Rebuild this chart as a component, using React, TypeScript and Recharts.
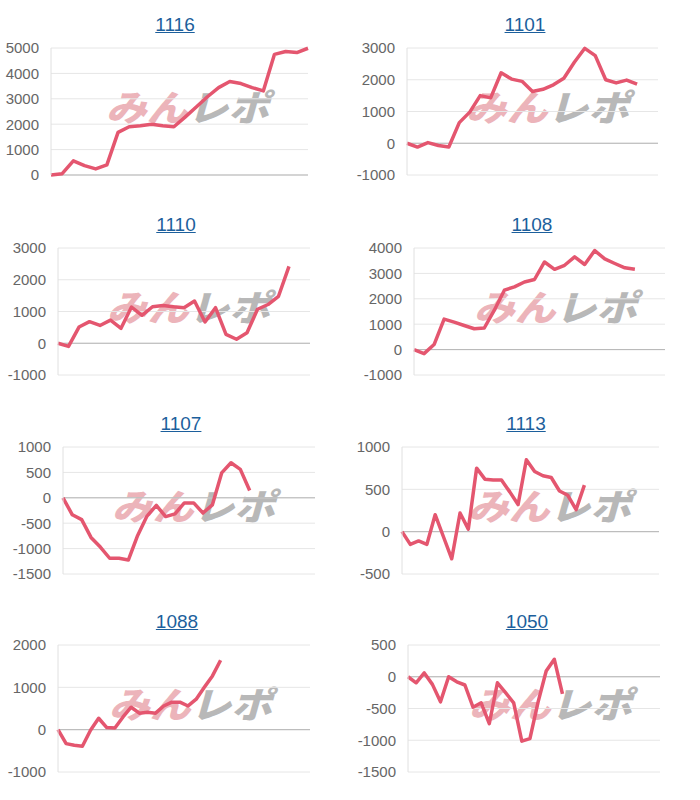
import React from 'react';
import { LineChart, Line, XAxis, YAxis, CartesianGrid, ReferenceLine } from 'recharts';

// 台ごとの差枚推移 (1日ずつ)
const names = ['1116', '1101', '1110', '1108', '1107', '1113', '1088', '1050'];

const s1116 = [0, 50, 560, 370, 240, 400, 1680, 1900, 1940, 2000, 1940, 1900, 2280, 2680, 3080, 3440, 3680, 3600, 3440, 3310, 4750, 4860, 4820, 4990];
const s1101 = [0, -120, 20, -70, -120, 650, 980, 1500, 1430, 2220, 2020, 1950, 1630, 1700, 1840, 2050, 2550, 2990, 2760, 2000, 1900, 1990, 1860, null, null];
const s1110 = [0, -100, 510, 680, 560, 730, 470, 1140, 880, 1150, 1190, 1150, 1120, 1330, 670, 1120, 280, 125, 330, 1070, 1220, 1480, 2420, null, null];
const s1108 = [0, -160, 200, 1200, 1080, 950, 820, 850, 1550, 2340, 2470, 2660, 2760, 3450, 3160, 3320, 3650, 3350, 3900, 3570, 3390, 3220, 3160, null, null, null];
const s1107 = [0, -335, -430, -780, -970, -1190, -1190, -1225, -740, -360, -150, -370, -315, -100, -100, -300, -140, 490, 690, 560, 145, null, null, null, null, null, null, null];
const s1113 = [0, -150, -110, -150, 200, -60, -320, 220, 30, 750, 620, 610, 610, 470, 320, 850, 710, 660, 640, 480, 430, 260, 550, null, null, null, null, null, null, null, null, null];
const s1088 = [0, -330, -370, -390, -15, 270, 50, 40, 300, 530, 390, 410, 390, 560, 650, 650, 560, 720, 1000, 1270, 1640, null, null, null, null, null, null, null, null, null, null, null];
const s1050 = [0, -95, 60, -120, -395, 0, -80, -130, -480, -410, -740, -95, -250, -410, -1015, -975, -400, 90, 275, -270, null, null, null, null, null, null, null, null, null, null, null, null];

const series = [s1116, s1101, s1110, s1108, s1107, s1113, s1088, s1050];

// y軸の目盛り
const ticks1116 = [0, 1000, 2000, 3000, 4000, 5000];
const ticks1101 = [-1000, 0, 1000, 2000, 3000];
const ticks1110 = [-1000, 0, 1000, 2000, 3000];
const ticks1108 = [-1000, 0, 1000, 2000, 3000, 4000];
const ticks1107 = [-1500, -1000, -500, 0, 500, 1000];
const ticks1113 = [-500, 0, 500, 1000];
const ticks1088 = [-1000, 0, 1000, 2000];
const ticks1050 = [-1500, -1000, -500, 0, 500];

const tickSets = [ticks1116, ticks1101, ticks1110, ticks1108, ticks1107, ticks1113, ticks1088, ticks1050];

// レイアウト (セル内の位置)
const layouts = [
    { plotLeft: 51, plotRight: 308, titleX: 175, wmX: 192 },
    { plotLeft: 57, plotRight: 308, titleX: 175, wmX: 202 },
    { plotLeft: 58, plotRight: 310, titleX: 176, wmX: 193 },
    { plotLeft: 64, plotRight: 315, titleX: 182, wmX: 210 },
    { plotLeft: 63, plotRight: 315, titleX: 181, wmX: 198 },
    { plotLeft: 52, plotRight: 309, titleX: 176, wmX: 204 },
    { plotLeft: 58, plotRight: 310, titleX: 177, wmX: 195 },
    { plotLeft: 58, plotRight: 310, titleX: 177, wmX: 205 },
];
const rowTops = [0, 200, 399, 597];

const CELL_W = 350;
const CELL_H = 200;
const LINE_COLOR = '#e4566f';
const FONT = '"Liberation Sans", Arial, sans-serif';

interface MiniChartProps {
    name: string;
    values: (number | null)[];
    ticks: number[];
    layout: { plotLeft: number; plotRight: number; titleX: number; wmX: number };
    x: number;
    y: number;
}

const MiniChart: React.FC<MiniChartProps> = ({ name, values, ticks, layout, x, y }) => {
    const data = values.map((v, i) => ({ day: i + 1, v }));
    const domain = [ticks[0], ticks[ticks.length - 1]];

    return (
        <div style={{ position: 'absolute', left: x, top: y, width: CELL_W, height: CELL_H }}>
            <div
                style={{
                    position: 'absolute',
                    left: layout.titleX - 60,
                    width: 120,
                    top: 14,
                    textAlign: 'center',
                    fontFamily: FONT,
                    fontSize: 19,
                    lineHeight: '21px',
                }}
            >
                <a href="#" style={{ color: '#1c5f9c', textDecoration: 'underline' }}>{name}</a>
            </div>
            {/* 透かしロゴ */}
            <div
                style={{
                    position: 'absolute',
                    left: layout.wmX - 100,
                    width: 200,
                    top: 87,
                    textAlign: 'center',
                    fontFamily: '"Noto Sans CJK JP", sans-serif',
                    fontSize: 36,
                    fontWeight: 900,
                    lineHeight: '36px',
                    transform: 'scaleX(1.13) skewX(-14deg)',
                    whiteSpace: 'nowrap',
                }}
            >
                <span style={{ color: '#ecb4ba' }}>みん</span>
                <span style={{ color: '#b8b8b8' }}>レポ</span>
            </div>
            <div style={{ position: 'absolute', left: 0, top: 0 }}>
                <LineChart
                    width={CELL_W}
                    height={CELL_H}
                    data={data}
                    margin={{ top: 48, right: CELL_W - layout.plotRight, bottom: 25, left: 0 }}
                >
                    <CartesianGrid vertical={false} stroke="#e6e6e6" />
                    <XAxis dataKey="day" hide />
                    <YAxis
                        width={layout.plotLeft}
                        domain={domain}
                        ticks={ticks}
                        interval={0}
                        axisLine={{ stroke: '#e0e0e0' }}
                        tickLine={false}
                        tickMargin={6}
                        tick={{ fontSize: 15, fill: '#666', fontFamily: FONT }}
                    />
                    <ReferenceLine y={0} stroke="#b5b5b5" />
                    <Line
                        type="linear"
                        dataKey="v"
                        stroke={LINE_COLOR}
                        strokeWidth={3.5}
                        strokeLinejoin="round"
                        dot={false}
                        activeDot={false}
                        isAnimationActive={false}
                    />
                </LineChart>
            </div>
        </div>
    );
};

export default function App() {
    return (
        <div style={{ position: 'absolute', left: 0, top: 0, width: 700, height: 800, background: '#fff' }}>
            {names.map((name, i) => (
                <MiniChart
                    key={name}
                    name={name}
                    values={series[i]}
                    ticks={tickSets[i]}
                    layout={layouts[i]}
                    x={(i % 2) * CELL_W}
                    y={rowTops[Math.floor(i / 2)]}
                />
            ))}
        </div>
    );
}
